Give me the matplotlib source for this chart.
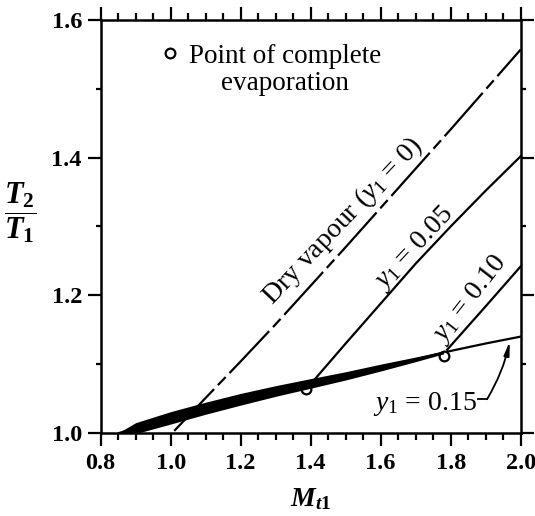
import numpy as np
import matplotlib
matplotlib.use("Agg")
from matplotlib import pyplot as plt

plt.rcParams['font.family'] = ['Liberation Serif', 'DejaVu Serif']
plt.rcParams['mathtext.fontset'] = 'custom'
plt.rcParams['mathtext.rm'] = 'Liberation Serif'
plt.rcParams['mathtext.it'] = 'Liberation Serif:italic'
plt.rcParams['mathtext.bf'] = 'Liberation Serif:bold'
plt.rcParams['mathtext.bfit'] = 'Liberation Serif:italic:bold'

# Dry vapour, y1 = 0
dry_m = [1.01, 1.1, 1.2, 1.3, 1.4, 1.5, 1.6, 1.7, 1.8, 1.9, 2.0]
dry_t = [1.003, 1.051, 1.104, 1.158, 1.214, 1.270, 1.327, 1.384, 1.441, 1.499, 1.557]

# y1 = 0.05, after complete evaporation
w05_m = [1.41, 1.5, 1.6, 1.7, 1.8, 1.9, 2.0]
w05_t = [1.077, 1.130, 1.188, 1.246, 1.300, 1.352, 1.402]

# y1 = 0.10, after complete evaporation
w10_m = [1.79, 1.9, 2.0]
w10_t = [1.121, 1.184, 1.242]

# y1 = 0.15
w15_m = [0.853, 0.9, 1.0, 1.1, 1.2, 1.3, 1.4, 1.5, 1.6, 1.7, 1.78, 1.9, 2.0]
w15_t = [1.000, 1.007, 1.022, 1.036, 1.049, 1.061, 1.072, 1.083, 1.095, 1.107, 1.117, 1.130, 1.140]

# points of complete evaporation
evap_m = [1.386, 1.780]
evap_t = [1.064, 1.112]

fig = plt.figure(figsize=(5.35, 5.16), dpi=100)
ax = fig.add_axes([0.1882, 0.1609, 0.7850, 0.8004])

lw = 1.6
ax.plot(dry_m, dry_t, color='black', lw=lw, linestyle=(0, (26, 2.5, 5, 2.5)))
ax.plot(w05_m, w05_t, color='black', lw=lw)
ax.plot(w10_m, w10_t, color='black', lw=lw)
ax.plot(w15_m, w15_t, color='black', lw=lw)

# heavy band where the wet curves run together
m15 = np.array(w15_m)
t15 = np.array(w15_t)
wet = m15 <= 1.78
thick = np.interp(m15[wet], [0.853, 0.9, 1.0, 1.2, 1.4, 1.6, 1.78],
                  [0.002, 0.016, 0.018, 0.017, 0.014, 0.010, 0.004])
ax.fill_between(m15[wet], t15[wet] - thick / 2, t15[wet] + thick / 2,
                color='black', lw=0, zorder=3)

ax.plot(evap_m, evap_t, 'o', ms=7, mfc='white', mec='black', mew=1.6, zorder=2)

# legend entry
ax.plot([0.998], [1.552], 'o', ms=7, mfc='white', mec='black', mew=1.6)
ax.text(1.327, 1.537, 'Point of complete', ha='center', va='baseline', fontsize=19.5)
ax.text(1.327, 1.4985, 'evaporation', ha='center', va='baseline', fontsize=19.5)

ax.text(1.492, 1.308, r'Dry vapour ($y_1$ = 0)', rotation=46.5, fontsize=20,
        ha='center', va='center', rotation_mode='anchor')
ax.text(1.695, 1.268, r'$y_1$ = 0.05', rotation=47, fontsize=20,
        ha='center', va='center', rotation_mode='anchor')
ax.text(1.856, 1.194, r'$y_1$ = 0.10', rotation=52, fontsize=20,
        ha='center', va='center', rotation_mode='anchor')
ax.text(1.875, 1.033, r'$y_1$ = 0.15', fontsize=20, ha='right', va='baseline')

# leader from the label up to the y1 = 0.15 curve
ax.plot([1.877, 1.904], [1.049, 1.049], color='black', lw=1.3)
ax.annotate('', xy=(1.969, 1.133), xytext=(1.904, 1.049),
            arrowprops=dict(arrowstyle='-|>,head_length=0.8,head_width=0.16',
                            color='black', lw=1.3,
                            connectionstyle='arc3,rad=0.08',
                            shrinkA=0, shrinkB=0))

ax.set_xlim(0.8, 2.0)
ax.set_ylim(1.0, 1.6)
ax.set_xticks(np.arange(0.8, 2.01, 0.2))
ax.set_xticks(np.arange(0.8, 2.01, 0.05), minor=True)
ax.set_yticks(np.arange(1.0, 1.61, 0.2))
ax.set_yticks(np.arange(1.0, 1.61, 0.1), minor=True)
ax.set_xticklabels(['0.8', '1.0', '1.2', '1.4', '1.6', '1.8', '2.0'])
ax.set_yticklabels(['1.0', '1.2', '1.4', '1.6'])
for lab in ax.get_xticklabels() + ax.get_yticklabels():
    lab.set_fontweight('bold')

ax.tick_params(which='both', direction='out', top=True, right=True,
               labeltop=False, labelright=False, width=1.6, labelsize=17.5)
ax.tick_params(which='major', length=9.5)
ax.tick_params(which='minor', length=5)
ax.tick_params(axis='x', which='major', pad=5)
ax.tick_params(axis='y', which='major', pad=4)
ax.tick_params(axis='y', which='minor', length=3.8)
for s in ax.spines.values():
    s.set_linewidth(1.8)

ax.set_xlabel(r'$\mathbfit{M}_{\mathbfit{t}\mathbf{1}}$', fontsize=20,
              va='center')
ax.xaxis.set_label_coords(0.5, -0.16)
ax.set_ylabel(r'$\dfrac{\mathbfit{T}_{\mathbf{2}}}{\mathbfit{T}_{\mathbf{1}}}$',
              fontsize=22, rotation=0, ha='center', va='center')
ax.yaxis.set_label_coords(-0.192, 0.533)

fig.savefig('out.png', dpi=100)
